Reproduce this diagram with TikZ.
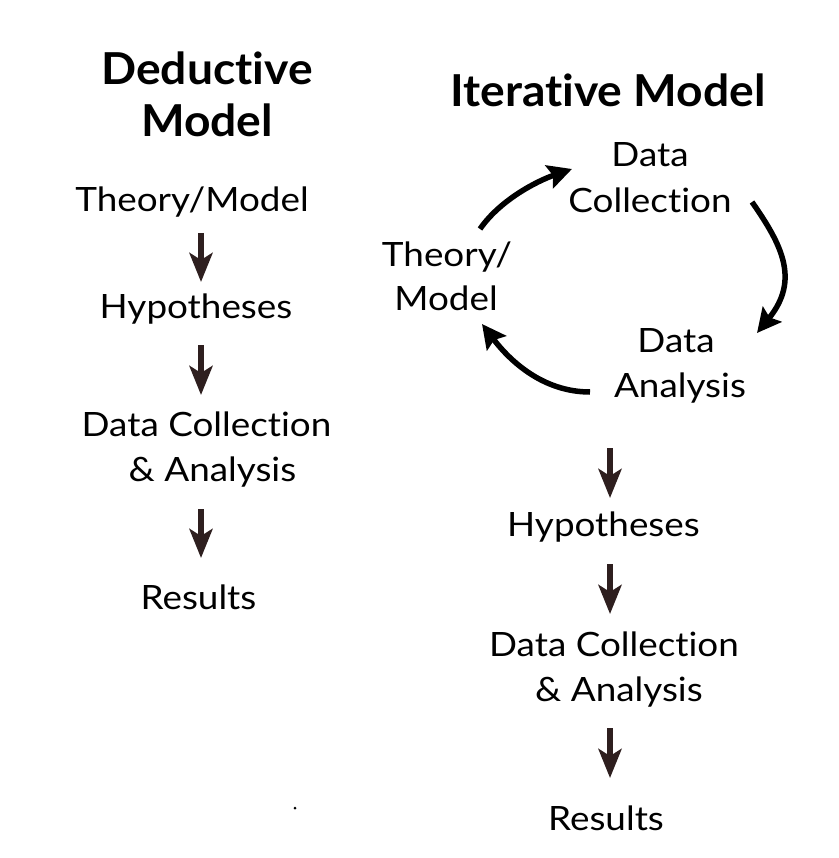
\documentclass[tikz,border=0pt]{standalone}
\usepackage{fontspec}
\setmainfont{Lato}[Ligatures=NoCommon]
\newfontfamily\regf{Lato}[FakeStretch=1.1,Ligatures=NoCommon]
\newfontfamily\ttlf{Lato}[FakeStretch=1.05,Ligatures=NoCommon]
\usetikzlibrary{arrows.meta,calc}
\definecolor{arrbrown}{HTML}{2E1F1F}
\tikzset{
  txt/.style={inner sep=0pt, anchor=base, font=\regf\fontsize{33.5}{40}\selectfont},
  ttl/.style={inner sep=0pt, anchor=base, font=\ttlf\fontsize{44}{52}\selectfont\bfseries},
  darr/.style={draw=arrbrown, line width=6pt, -{Stealth[length=29pt,width=23pt,inset=7pt]}},
  carr/.style={draw=black, line width=5.5pt, -{Stealth[length=24pt,width=24pt,inset=4pt]}}
}
\begin{document}
\begin{tikzpicture}[x=1pt,y=-1pt]
\useasboundingbox[fill=white] (0,0) rectangle (838,858);
% left column
\node[ttl] (t1a) at (207,85) {Deductive};
\node[ttl] (t1b) at (207,137) {Model};
\node[txt] (th) at (192,212) {Theory/Model};
\node[txt] (hyp) at (196,318) {Hypotheses};
\node[txt] (dc1) at (206.5,436) {Data Collection};
\node[txt] (an1) at (212.5,481) {\& Analysis};
\node[txt] (res) at (198.5,609) {Results};
\draw[darr] ($(th.base)+(9,21)$) -- ($(hyp.base)+(5,-36)$);
\draw[darr] ($(hyp.base)+(5,27)$) -- ($(dc1.base)+(-5.5,-41)$);
\draw[darr] ($(an1.base)+(-11.5,28)$) -- ($(res.base)+(2.5,-51)$);
\fill (295,808) circle (1.5);
% right column
\node[ttl] (t2) at (608,107) {Iterative Model};
\node[txt] (dat1) at (650,167) {Data};
\node[txt] (col1) at (650,213) {Collection};
\node[txt] (th2) at (447,266) {Theory/};
\node[txt] (mod2) at (446,310) {Model};
\node[txt] (dat2) at (676,352) {Data};
\node[txt] (ana2) at (680,397) {Analysis};
\draw[carr] ($(th2.base)+(33,-37)$) .. controls +(20,-29) and +(-35,12) .. ($(dat1.base)+(-78,2)$);
\draw[carr] ($(col1.base)+(102,-11)$) .. controls +(30,43) and +(43,-53) .. ($(dat2.base)+(81,-19)$);
\draw[carr] ($(ana2.base)+(-90,-5)$) .. controls +(-50,0) and +(25,33) .. ($(mod2.base)+(36,14)$);
\node[txt] (hyp2) at (603.5,536) {Hypotheses};
\node[txt] (dc2) at (614,656) {Data Collection};
\node[txt] (an2) at (619,701) {\& Analysis};
\node[txt] (res2) at (606,830) {Results};
\draw[darr] ($(ana2.base)+(-70,51)$) -- ($(hyp2.base)+(6.5,-38)$);
\draw[darr] ($(hyp2.base)+(6.5,28)$) -- ($(dc2.base)+(-4,-42)$);
\draw[darr] ($(an2.base)+(-9,27)$) -- ($(res2.base)+(4,-52)$);
\end{tikzpicture}
\end{document}
